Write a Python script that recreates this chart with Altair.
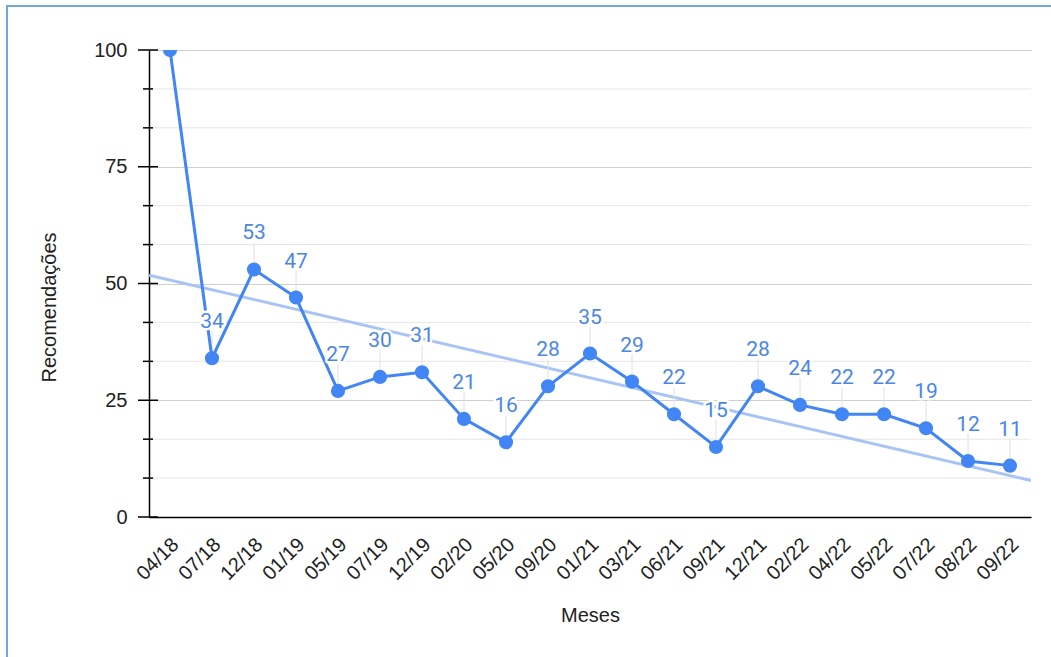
import json
import altair as alt
import pandas as pd

# ---- data ----
months = ["04/18", "07/18", "12/18", "01/19", "05/19", "07/19", "12/19", "02/20",
          "05/20", "09/20", "01/21", "03/21", "06/21", "09/21", "12/21", "02/22",
          "04/22", "05/22", "07/22", "08/22", "09/22"]
values = [100, 34, 53, 47, 27, 30, 31, 21, 16, 28, 35, 29, 22, 15, 28, 24, 22, 22, 19, 12, 11]

major_ticks = [0, 25, 50, 75, 100]
minor_ticks = [v * 25 / 3 for v in range(13) if v % 3 != 0]

W, H = 882, 467

df = pd.DataFrame({"idx": list(range(len(months))), "mes": months, "value": values})
df_major = pd.DataFrame({"t": major_ticks})
df_minor = pd.DataFrame({"t": minor_ticks})
df_one = pd.DataFrame({"a": [0]})

LINE = "#4285f4"
LABEL = "#4a86e8"
TREND = "#a8c4f4"

x_scale = alt.Scale(domain=[-0.5, len(months) - 0.5], nice=False, zero=False)
y_scale = alt.Scale(domain=[0, 100], nice=False)

label_expr = json.dumps(months) + "[datum.value]"

x_enc = alt.X("idx:Q", scale=x_scale, title="Meses",
              axis=alt.Axis(values=list(range(len(months))), labelExpr=label_expr,
                            labelAngle=-45, labelAlign="right", labelBaseline="top",
                            labelPadding=17, labelOffset=-2, labelOverlap=False,
                            labelBound=False, labelFlush=False, ticks=False, grid=False,
                            domainColor="#000000", domainWidth=1.5,
                            labelFont="Liberation Sans", labelFontSize=20, labelColor="#222222",
                            titleFont="Liberation Sans", titleFontSize=20, titleFontWeight="normal",
                            titleColor="#222222", titleY=98, titleBaseline="middle"))
y_enc = alt.Y("value:Q", scale=y_scale, title="Recomendações",
              axis=alt.Axis(values=major_ticks, ticks=False, tickSize=0, labelPadding=22,
                            grid=True, gridColor="#cfcfcf", gridWidth=1,
                            domainColor="#000000", domainWidth=1.5,
                            labelFont="Liberation Sans", labelFontSize=20, labelColor="#222222",
                            titleFont="Liberation Sans", titleFontSize=20, titleFontWeight="normal",
                            titleColor="#222222", titleX=-100, titleY=257, titleAngle=-90,
                            titleAlign="center", titleBaseline="middle"))

base = alt.Chart(df)

frame = alt.Chart(df_one).mark_rect(fill="transparent", stroke="#6fa8dc", strokeWidth=2).encode(
    x=alt.value(-142), x2=alt.value(W + 40), y=alt.value(-44), y2=alt.value(H + 200))

minor_grid = alt.Chart(df_minor).mark_rule(color="#e6e6e6", strokeWidth=1).encode(
    y=alt.Y("t:Q", scale=y_scale), x=alt.value(0), x2=alt.value(W))
minor_tick = alt.Chart(df_minor).mark_rule(color="#000000", strokeWidth=1.5).encode(
    y=alt.Y("t:Q", scale=y_scale), x=alt.value(-6), x2=alt.value(4))
major_tick = alt.Chart(df_major).mark_rule(color="#000000", strokeWidth=1.5).encode(
    y=alt.Y("t:Q", scale=y_scale), x=alt.value(-11), x2=alt.value(9))

axis_layer = base.mark_point(opacity=0).encode(x=x_enc, y=y_enc)

trend = base.transform_regression("idx", "value", extent=[-0.5, len(months) - 0.5]).mark_line(
    color=TREND, strokeWidth=3, clip=True).encode(
    x=alt.X("idx:Q", scale=x_scale), y=alt.Y("value:Q", scale=y_scale))

leaders = base.mark_rule(color="#e0e0e0", strokeWidth=1, y2Offset=-27, clip=True).encode(
    x=alt.X("idx:Q", scale=x_scale), y=alt.Y("value:Q", scale=y_scale),
    y2=alt.Y2("value:Q"))

line = base.mark_line(color=LINE, strokeWidth=3, clip=True).encode(
    x=alt.X("idx:Q", scale=x_scale), y=alt.Y("value:Q", scale=y_scale))

points = base.mark_circle(color=LINE, size=200, opacity=1, clip=True).encode(
    x=alt.X("idx:Q", scale=x_scale), y=alt.Y("value:Q", scale=y_scale))

halo = base.mark_text(font="Roboto", fontSize=21, dy=-30, baseline="alphabetic",
                      fill="white", stroke="white", strokeWidth=5, strokeJoin="round",
                      clip=True).encode(
    x=alt.X("idx:Q", scale=x_scale), y=alt.Y("value:Q", scale=y_scale), text="value:Q")

labels = base.mark_text(font="Roboto", fontSize=21, dy=-30, baseline="alphabetic",
                        color=LABEL, clip=True).encode(
    x=alt.X("idx:Q", scale=x_scale), y=alt.Y("value:Q", scale=y_scale), text="value:Q")

chart = alt.layer(frame, minor_grid, axis_layer, trend, leaders, line, points, halo, labels,
                  minor_tick, major_tick).properties(
    width=W, height=H,
    autosize=alt.AutoSizeParams(type="none"),
    padding={"left": 149, "top": 50, "right": 20, "bottom": 140},
    background="white",
).configure_view(stroke=None)

chart.save("out.html", embed_options={"renderer": "svg", "actions": False})
